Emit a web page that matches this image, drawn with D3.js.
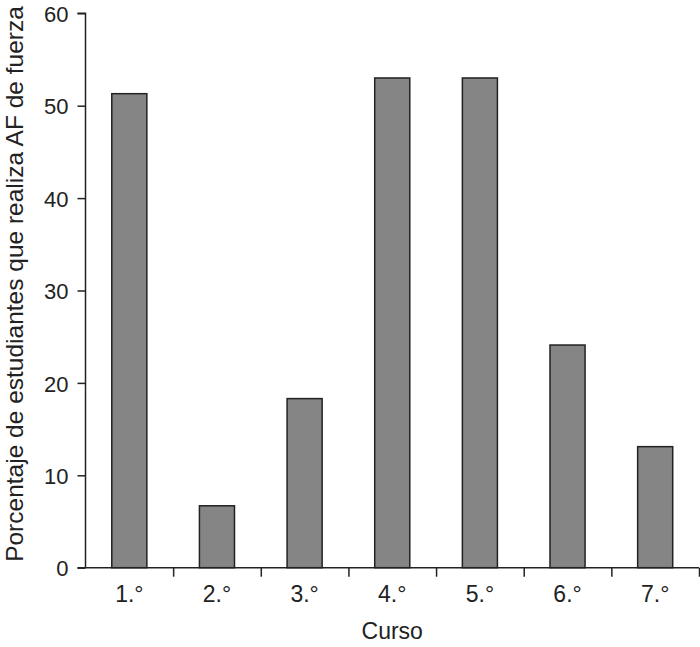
<!DOCTYPE html>
<html><head><meta charset="utf-8">
<script src="https://cdn.jsdelivr.net/npm/d3@7"></script>
<style>body{margin:0;background:#fff}</style>
</head><body>
<script>
const categories = ["1.°","2.°","3.°","4.°","5.°","6.°","7.°"];
const values = [51.3, 6.7, 18.3, 53.0, 53.0, 24.1, 13.1];
const yTicks = [0,10,20,30,40,50,60];
const xTitle = "Curso";
const yTitle = "Porcentaje de estudiantes que realiza AF de fuerza";

const W = 700, H = 647;
const m = {left: 85.5, right: 1, top: 13.3, bottom: 79.3};
const svg = d3.select("body").append("svg").attr("width", W).attr("height", H);
const font = "Liberation Sans, Arial, sans-serif";

const x = d3.scaleBand().domain(categories).range([m.left, W - m.right]).paddingInner(0.6).paddingOuter(0.3);
const y = d3.scaleLinear().domain([0, 60]).range([H - m.bottom, m.top]);
const xb = d3.scaleLinear().domain([0, categories.length]).range([m.left, W - m.right]);

svg.selectAll("rect.bar").data(values).join("rect")
  .attr("class","bar")
  .attr("x", (d,i) => x(categories[i]))
  .attr("width", x.bandwidth())
  .attr("y", d => y(d))
  .attr("height", d => y(0) - y(d))
  .attr("fill", "#858585").attr("stroke", "#222").attr("stroke-width", 1.5);

// y axis
const ya = svg.append("g").attr("transform", `translate(${m.left},0)`)
  .call(d3.axisLeft(y).tickValues(yTicks).tickSize(8).tickPadding(9));
ya.select(".domain").attr("stroke","#222").attr("stroke-width",1.5).attr("d", `M-8,${y(60)}H0V${y(0)}`);
ya.selectAll(".tick line").attr("stroke","#222").attr("stroke-width",1.5);
ya.selectAll("text").attr("font-family", font).attr("font-size", 22).attr("fill","#222").attr("dy","0.37em");

// x axis boundary ticks
const xa = svg.append("g").attr("transform", `translate(0,${y(0)})`)
  .call(d3.axisBottom(xb).tickValues(d3.range(1, categories.length + 1)).tickSize(9).tickFormat(""));
xa.select(".domain").attr("stroke","#222").attr("stroke-width",1.5).attr("d", `M${m.left-8},0H${W - m.right}`);
xa.selectAll(".tick line").attr("stroke","#222").attr("stroke-width",1.5);

// x labels
const xl = svg.append("g").attr("transform", `translate(0,${y(0)})`)
  .call(d3.axisBottom(x).tickSize(0).tickPadding(18));
xl.select(".domain").remove();
xl.selectAll("text").attr("font-family", font).attr("font-size", 23).attr("fill","#222");

svg.append("text").attr("x", (m.left + W - m.right)/2).attr("y", 639)
  .attr("text-anchor","middle").attr("font-family", font).attr("font-size", 23).attr("fill","#222").text(xTitle);

svg.append("text").attr("transform", `translate(23,284) rotate(-90)`)
  .attr("text-anchor","middle").attr("font-family", font).attr("font-size", 24.5).attr("fill","#222").text(yTitle);
</script>
</body></html>
